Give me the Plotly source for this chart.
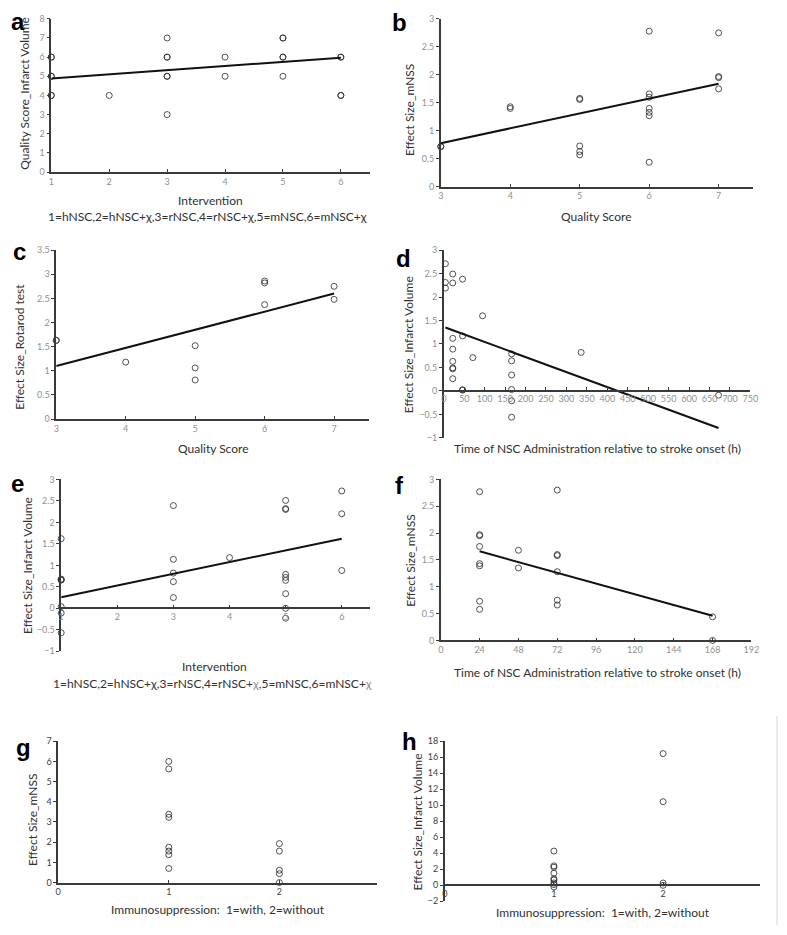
import plotly.graph_objects as go

W, H = 787, 935

# ---------------- data ----------------
# a: Quality Score (Infarct Volume) vs Intervention
a_x = [1, 1, 1, 1, 1, 1, 2, 3, 3, 3, 3, 3, 3, 4, 4, 5, 5, 5, 5, 5, 6, 6, 6, 6]
a_y = [4, 4, 5, 5, 6, 6, 4, 3, 5, 5, 6, 6, 7, 5, 6, 5, 6, 6, 7, 7, 4, 4, 6, 6]
a_trend_x = [1, 6]
a_trend_y = [4.88, 5.97]

# b: Effect size mNSS vs Quality Score
b_x = [3, 3, 4, 4, 5, 5, 5, 5, 5, 6, 6, 6, 6, 6, 6, 6, 7, 7, 7, 7]
b_y = [0.72, 0.72, 1.40, 1.43, 1.56, 1.58, 0.73, 0.63, 0.57,
       2.78, 1.66, 1.60, 1.40, 1.33, 1.27, 0.44, 2.75, 1.97, 1.95, 1.75]
b_trend_x = [3, 7]
b_trend_y = [0.78, 1.84]

# c: Effect size Rotarod vs Quality Score
c_x = [3, 3, 4, 5, 5, 5, 6, 6, 6, 7, 7]
c_y = [1.63, 1.63, 1.18, 1.52, 1.06, 0.81, 2.86, 2.82, 2.37, 2.75, 2.48]
c_trend_x = [3, 7]
c_trend_y = [1.10, 2.60]

# d: Effect size Infarct Volume vs time (h)
d_x = [4, 4, 4, 22, 22, 46, 95, 46, 22, 22, 22, 22, 22, 22, 46, 46,
       71, 166, 166, 166, 166, 166, 166, 336, 672]
d_y = [2.71, 2.31, 2.19, 2.49, 2.30, 2.38, 1.60, 1.17, 1.12, 0.89, 0.63,
       0.49, 0.47, 0.26, 0.02, 0.02, 0.71, 0.79, 0.64, 0.34, 0.03, -0.21,
       -0.56, 0.82, -0.09]
d_trend_x = [4, 672]
d_trend_y = [1.35, -0.79]

# e: Effect size Infarct Volume vs Intervention
e_x = [1, 1, 1, 1, 1, 1, 1, 3, 3, 3, 3, 3, 4, 5, 5, 5, 5, 5, 5, 5, 5, 5, 6, 6, 6]
e_y = [1.62, 0.68, 0.66, 0.66, 0.04, -0.11, -0.57, 2.39, 1.14, 0.82, 0.62,
       0.25, 1.18, 2.51, 2.32, 2.30, 0.79, 0.72, 0.65, 0.34, 0.00, -0.23,
       2.73, 2.20, 0.88]
e_trend_x = [1, 6]
e_trend_y = [0.26, 1.62]

# f: Effect size mNSS vs time (h)
f_x = [24, 24, 24, 24, 24, 24, 24, 24, 48, 48, 72, 72, 72, 72, 72, 72, 168, 168]
f_y = [2.77, 1.97, 1.95, 1.75, 1.43, 1.39, 0.73, 0.58, 1.68, 1.35,
       2.80, 1.60, 1.58, 1.28, 0.75, 0.66, 0.44, 0.00]
f_trend_x = [24, 168]
f_trend_y = [1.66, 0.46]

# g: Effect size mNSS vs immunosuppression
g_x = [1, 1, 1, 1, 1, 1, 1, 1, 2, 2, 2, 2, 2]
g_y = [6.00, 5.63, 3.38, 3.23, 1.75, 1.56, 1.38, 0.70, 1.93, 1.56, 0.61, 0.44, 0.00]

# h: Effect size Infarct Volume vs immunosuppression
h_x = [1, 1, 1, 1, 1, 1, 1, 1, 1, 2, 2, 2, 2]
h_y = [4.28, 2.43, 2.26, 1.52, 0.82, 0.66, 0.30, 0.10, -0.20, 16.46, 10.45, 0.29, 0.00]

# ---------------- layout helpers ----------------
TICK_FONT = dict(family="Lato", size=9, color="#909090")
TICK_FONT_DARK = dict(family="Lato", size=9, color="#404040")
TITLE_FONT = dict(family="Lato", size=12, color="#303030")
AXC = "#3a3a3a"

panels = [
    dict(x=a_x, y=a_y, tx=a_trend_x, ty=a_trend_y, box=(49, 13, 372, 168),
         xr=[1, 6.5], yr=[0, 8], xt=[1, 2, 3, 4, 5, 6], ydt=1, x0=None, tf=TICK_FONT),
    dict(x=b_x, y=b_y, tx=b_trend_x, ty=b_trend_y, box=(444, 13, 761, 183),
         xr=[3, 7.5], yr=[0, 3], xt=[3, 4, 5, 6, 7], ydt=0.5, x0=None, tf=TICK_FONT),
    dict(x=c_x, y=c_y, tx=c_trend_x, ty=c_trend_y, box=(54, 247, 371, 418),
         xr=[3, 7.5], yr=[0, 3.5], xt=[3, 4, 5, 6, 7], ydt=0.5, x0=None, tf=TICK_FONT),
    dict(x=d_x, y=d_y, tx=d_trend_x, ty=d_trend_y, box=(447, 247, 758, 437),
         xr=[0, 750], yr=[-1, 3], xt=list(range(0, 751, 50)), ydt=0.5, x0=0, tf=TICK_FONT),
    dict(x=e_x, y=e_y, tx=e_trend_x, ty=e_trend_y, box=(59, 479, 372, 653),
         xr=[1, 6.5], yr=[-1, 3], xt=[1, 2, 3, 4, 5, 6], ydt=0.5, x0=0, tf=TICK_FONT),
    dict(x=f_x, y=f_y, tx=f_trend_x, ty=f_trend_y, box=(444, 479, 759, 642),
         xr=[0, 192], yr=[0, 3], xt=list(range(0, 193, 24)), ydt=0.5, x0=None, tf=TICK_FONT),
    dict(x=g_x, y=g_y, tx=None, ty=None, box=(56, 744, 379, 887),
         xr=[0, 2.88], yr=[0, 7], xt=[0, 1, 2], ydt=1, x0=None, tf=TICK_FONT_DARK),
    dict(x=h_x, y=h_y, tx=None, ty=None, box=(448, 744, 768, 906),
         xr=[0, 2.89], yr=[-2, 18], xt=[0, 1, 2], ydt=2, x0=0, tf=TICK_FONT_DARK),
]

fig = go.Figure()
layout = {}
for i, p in enumerate(panels):
    n = i + 1
    xs = "x" if n == 1 else f"x{n}"
    ys = "y" if n == 1 else f"y{n}"
    xk = "xaxis" if n == 1 else f"xaxis{n}"
    yk = "yaxis" if n == 1 else f"yaxis{n}"
    l, t, r, b = p["box"]
    xdom = [l / W, r / W]
    ydom = [1 - b / H, 1 - t / H]
    fig.add_trace(go.Scatter(
        x=p["x"], y=p["y"], mode="markers", xaxis=xs, yaxis=ys,
        marker=dict(symbol="circle-open", size=6, color="rgba(40,40,40,0.8)",
                    line=dict(width=1)),
        cliponaxis=False, showlegend=False, hoverinfo="skip"))
    if p["tx"] is not None:
        fig.add_trace(go.Scatter(
            x=p["tx"], y=p["ty"], mode="lines", xaxis=xs, yaxis=ys,
            line=dict(color="#111111", width=2), cliponaxis=False,
            showlegend=False, hoverinfo="skip"))
    xa = dict(domain=xdom, range=p["xr"], tickmode="array", tickvals=p["xt"],
              showgrid=False, zeroline=False, showline=True, linecolor=AXC,
              linewidth=1.5, ticks="inside", ticklen=3, tickcolor=AXC,
              tickfont=p["tf"], fixedrange=True)
    if p["x0"] is None:
        xa["anchor"] = ys
    else:
        y0, y1 = p["yr"]
        frac = (p["x0"] - y0) / (y1 - y0)
        xa["anchor"] = "free"
        xa["position"] = ydom[0] + frac * (ydom[1] - ydom[0])
    ya = dict(domain=ydom, range=p["yr"], dtick=p["ydt"], anchor=xs,
              showgrid=False, zeroline=False, showline=True, linecolor=AXC,
              linewidth=1.5, ticks="outside", ticklen=3, tickcolor=AXC,
              tickfont=p["tf"], fixedrange=True)
    layout[xk] = xa
    layout[yk] = ya

anns = []
def txt(x, y, s, font=TITLE_FONT, angle=0):
    anns.append(dict(x=x / W, y=1 - y / H, xref="paper", yref="paper", text=s,
                     showarrow=False, font=font, textangle=angle,
                     xanchor="center", yanchor="middle"))

LETTER = dict(family="Liberation Sans", size=24, color="#000000")
for s, x, y in [("<b>a</b>", 15, 16), ("<b>b</b>", 402, 17), ("<b>c</b>", 17, 248),
                ("<b>d</b>", 406, 255), ("<b>e</b>", 15, 483), ("<b>f</b>", 402, 485),
                ("<b>g</b>", 21, 750), ("<b>h</b>", 412, 744)]:
    txt(x, y, s, LETTER)

# y titles
txt(22, 88, "Quality Score_Infarct Volume", angle=-90)
txt(413, 105, "Effect Size_mNSS", angle=-90)
txt(17, 345, "Effect Size_Rotarod test", angle=-90)
txt(412, 343, "Effect Size_Infarct Volume", angle=-90)
txt(25, 566, "Effect Size_Infarct Volume", angle=-90)
txt(413, 561, "Effect Size_mNSS", angle=-90)
txt(30, 824, "Effect Size_mNSS", angle=-90)
txt(420, 826, "Effect Size_Infarct Volume", angle=-90)

# x titles
txt(210, 197, "Intervention")
txt(207, 213, "1=hNSC,2=hNSC+χ,3=rNSC,4=rNSC+χ,5=mNSC,6=mNSC+χ")
txt(602, 213, "Quality Score")
txt(213, 448, "Quality Score")
txt(603, 448, "Time of NSC Administration relative to stroke onset (h)")
txt(215, 668, "Intervention")
txt(212, 686, "1=hNSC,2=hNSC+χ,3=rNSC,4=rNSC+<span style='color:#909090'>χ</span>,"
              "5=mNSC,6=mNSC+<span style='color:#909090'>χ</span>")
txt(603, 674, "Time of NSC Administration relative to stroke onset (h)")
txt(218, 914, "Immunosuppression:  1=with, 2=without")
txt(608, 917, "Immunosuppression:  1=with, 2=without")

fig.update_layout(
    width=W, height=H, margin=dict(l=0, r=0, t=0, b=0),
    paper_bgcolor="white", plot_bgcolor="white",
    annotations=anns,
    shapes=[dict(type="line", xref="paper", yref="paper",
                 x0=785 / W, x1=785 / W, y0=1 - 930 / H, y1=1 - 718 / H,
                 line=dict(color="#d8d8d8", width=1))],
    **layout)

fig.write_html("out.html", config={"displayModeBar": False},
               post_script="document.body.style.margin='0px';document.body.style.overflow='hidden';")
